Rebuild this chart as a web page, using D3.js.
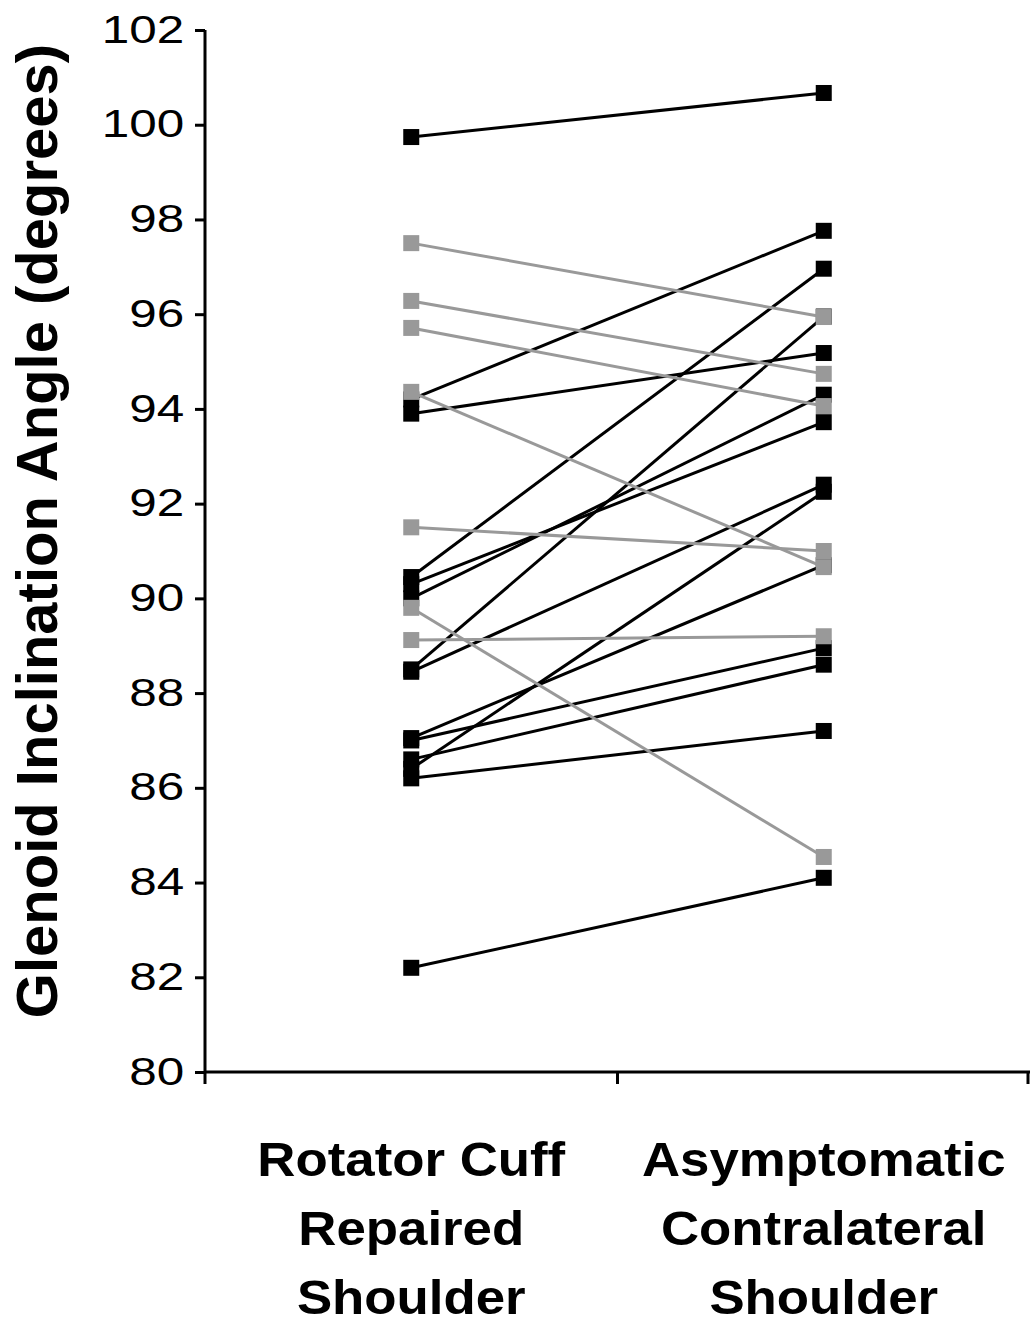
<!DOCTYPE html>
<html>
<head>
<meta charset="utf-8">
<script src="https://cdn.jsdelivr.net/npm/d3@7"></script>
<style>
  body { margin: 0; background: #fff; }
  svg { display: block; }
</style>
</head>
<body>
<svg id="chart"></svg>
<script>
const width = 1032, height = 1324;

// categories on the x axis (each one split over lines)
const categories = ["repaired", "contralateral"];
const categoryLines = [
    ["Rotator Cuff", "Repaired", "Shoulder"],
    ["Asymptomatic", "Contralateral", "Shoulder"]
];

// y tick labels
const yTicks = [80, 82, 84, 86, 88, 90, 92, 94, 96, 98, 100, 102];

// black series: repaired vs contralateral angle per patient
const blackRepaired      = [99.74, 94.2, 93.9, 90.45, 90.0, 90.3, 88.5, 88.45, 87.0, 87.05, 86.4, 86.6, 86.2, 82.2];
const blackContralateral = [100.67, 97.76, 95.18, 96.96, 94.3, 93.72, 95.95, 92.4, 88.95, 90.7, 92.25, 88.6, 87.2, 84.1];

// gray series
const grayRepaired      = [97.5, 96.28, 95.71, 94.36, 91.5, 89.8, 89.12];
const grayContralateral = [95.94, 94.74, 94.06, 90.66, 91.0, 84.54, 89.2];

const svg = d3.select("#chart")
    .attr("width", width)
    .attr("height", height)
    .style("font-family", "'Liberation Sans', Arial, sans-serif");

const x = d3.scaleBand().domain(categories).range([205, 1030]).paddingInner(0).paddingOuter(0);
const y = d3.scaleLinear().domain([80, 102]).range([1072, 30]);
const cx = c => x(c) + x.bandwidth() / 2;

// y axis
const yAxis = svg.append("g")
    .attr("transform", "translate(205,0)")
    .call(d3.axisLeft(y).tickValues(yTicks).tickSize(10).tickPadding(6).tickFormat(d3.format("d")));
yAxis.select(".domain").attr("stroke", "#000").attr("stroke-width", 3).attr("d", `M0,${y(102)}V${y(80)}`);
yAxis.selectAll(".tick line").attr("stroke", "#000").attr("stroke-width", 3);
yAxis.selectAll(".tick text")
    .attr("fill", "#000")
    .style("font-size", "38px")
    .attr("transform", "scale(1.3,1)");

// x axis: baseline with ticks on band edges
const xAxis = svg.append("g");
xAxis.append("line")
    .attr("x1", x.range()[0]).attr("x2", x.range()[1])
    .attr("y1", y(80)).attr("y2", y(80))
    .attr("stroke", "#000").attr("stroke-width", 3);
const edges = categories.map(c => x(c)).concat([x.range()[1] - 2]);
xAxis.selectAll("line.tick")
    .data(edges)
    .join("line")
    .attr("class", "tick")
    .attr("x1", d => d).attr("x2", d => d)
    .attr("y1", y(80)).attr("y2", y(80) + 12)
    .attr("stroke", "#000").attr("stroke-width", 3);

categories.forEach((c, i) => {
    const t = svg.append("text")
        .attr("text-anchor", "middle")
        .attr("transform", `translate(${cx(c)},0) scale(1.1,1)`)
        .style("font-size", "48px")
        .style("font-weight", "bold")
        .attr("fill", "#000");
    categoryLines[i].forEach((line, k) => {
        t.append("tspan").attr("x", 0).attr("y", 1176 + k * 69).text(line);
    });
});

// y title
svg.append("text")
    .attr("transform", "translate(57,531) rotate(-90)")
    .attr("text-anchor", "middle")
    .style("font-size", "58px")
    .style("font-weight", "bold")
    .attr("fill", "#000")
    .text("Glenoid Inclination Angle (degrees)");

const drawSeries = (left, right, color, sw) => {
    const pairs = left.map((v, i) => ({ a: v, b: right[i] }));
    const g = svg.append("g");
    g.selectAll("line")
        .data(pairs)
        .join("line")
        .attr("x1", cx(categories[0])).attr("y1", d => y(d.a))
        .attr("x2", cx(categories[1])).attr("y2", d => y(d.b))
        .attr("stroke", color).attr("stroke-width", sw);
    const m = 16;
    const pts = pairs.flatMap(d => [
        { c: categories[0], v: d.a },
        { c: categories[1], v: d.b }
    ]);
    g.selectAll("rect")
        .data(pts)
        .join("rect")
        .attr("x", d => cx(d.c) - m / 2)
        .attr("y", d => y(d.v) - m / 2)
        .attr("width", m).attr("height", m)
        .attr("fill", color);
};

drawSeries(blackRepaired, blackContralateral, "#000", 3);
drawSeries(grayRepaired, grayContralateral, "#999", 3);
</script>
</body>
</html>
